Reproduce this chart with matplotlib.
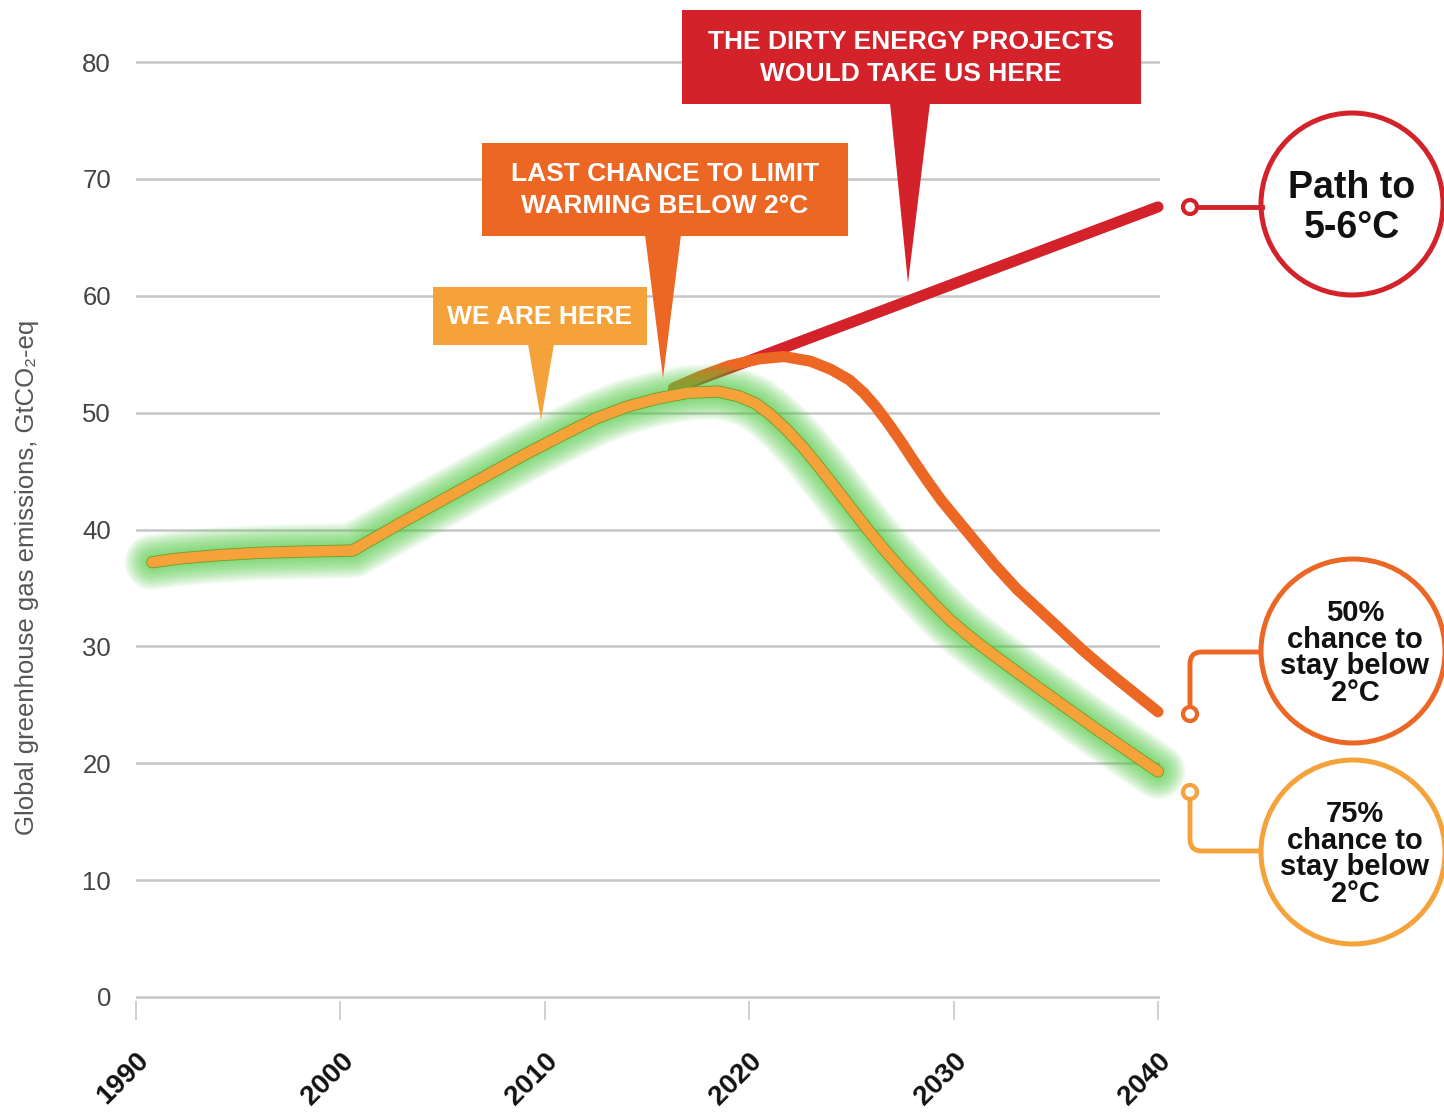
import numpy as np
import matplotlib.pyplot as plt
from matplotlib.patches import Circle, Polygon, Rectangle, PathPatch
from matplotlib.path import Path

# values (GtCO2-eq)
years_75 = [1990.8, 1992, 1994, 1996, 1998, 2000.6, 2003, 2006, 2009, 2011, 2012.5,
            2014, 2015.5, 2017, 2018.5, 2019.5, 2020.3, 2021, 2021.8, 2022.6,
            2023.4, 2024.2, 2025, 2025.8, 2026.6, 2027.4, 2028.2, 2029, 2029.8,
            2030.6, 2031.4, 2032.2, 2033.1, 2034, 2035, 2036, 2037, 2038, 2039, 2040]
emis_75 = [37.2, 37.5, 37.8, 38.0, 38.1, 38.2, 40.6, 43.5, 46.4, 48.2, 49.5,
           50.5, 51.2, 51.7, 51.8, 51.4, 50.8, 49.9, 48.6, 47.1,
           45.4, 43.6, 41.8, 40.0, 38.3, 36.7, 35.2, 33.7, 32.3,
           31.1, 30.0, 28.95, 27.8, 26.65, 25.4, 24.15, 22.9, 21.7, 20.5, 19.3]

years_50 = [2016.3, 2017.6, 2019, 2020.5, 2021.7, 2023, 2024, 2024.9, 2025.6, 2026.2,
            2026.8, 2027.4, 2028, 2028.7, 2029.4, 2030.2, 2031, 2032, 2033.1,
            2033.9, 2034.7, 2035.5, 2036.3, 2037.1, 2038, 2039, 2040]
emis_50 = [52.1, 53.1, 54.0, 54.6, 54.8, 54.4, 53.7, 52.8, 51.7, 50.5,
           49.1, 47.6, 46.0, 44.2, 42.5, 40.8, 39.1, 37.0, 34.9,
           33.6, 32.3, 31.0, 29.7, 28.5, 27.2, 25.8, 24.4]

years_dirty = [2016.3, 2040]
emis_dirty = [52.0, 67.6]

xticks = [1990, 2000, 2010, 2020, 2030, 2040]
yticks = [0, 10, 20, 30, 40, 50, 60, 70, 80]

RED = '#d3222a'
ORANGE = '#ec6624'
YELLOW = '#f5a23a'
GREEN = '#4fcc40'
FONT = ['Liberation Sans', 'DejaVu Sans']

W, H = 1444, 1113
plt.rcParams['font.family'] = FONT
fig = plt.figure(figsize=(W / 100, H / 100), dpi=100)
ax = fig.add_axes([136 / W, (H - 1000.5) / H, 1024 / W, 942 / H])

ax.set_xlim(1990, 2040.1)
ax.set_ylim(-0.3, 80.3)
for s in ax.spines.values():
    s.set_visible(False)
ax.yaxis.grid(True, color='#c6c6c6', lw=1.8)
ax.set_axisbelow(True)

ax.set_yticks(yticks)
ax.set_xticks(xticks)
ax.set_xticklabels([str(x) for x in xticks], rotation=45, ha='right', va='top',
                   rotation_mode='anchor', fontweight='bold')
ax.tick_params(axis='x', length=14, width=1.2, color='#c8c8c8', pad=20,
               labelsize=20, labelcolor='#111111')
ax.tick_params(axis='y', length=0, pad=18, labelsize=18.5, labelcolor='#444444')

line_kw = dict(solid_capstyle='round', solid_joinstyle='round', clip_on=False)

# dirty path and 50% path
ax.plot(years_dirty, emis_dirty, color=RED, lw=8, **line_kw)
ax.plot(years_50, emis_50, color=ORANGE, lw=8, **line_kw)

# 75% path with green glow
for lw in np.linspace(40, 11, 14):
    ax.plot(years_75, emis_75, color=GREEN, lw=lw, alpha=0.07, **line_kw)
ax.plot(years_75, emis_75, color='#6e9e2a', lw=8.8, **line_kw)
ax.plot(years_75, emis_75, color=YELLOW, lw=7.6, **line_kw)

fig.text(27 / W, 1 - 577 / H, 'Global greenhouse gas emissions, GtCO\u2082-eq',
         rotation=90, ha='center', va='center', fontsize=18.5, color='#555555')

# overlay in pixel coordinates for callouts
ov = fig.add_axes([0, 0, 1, 1])
ov.set_xlim(0, W)
ov.set_ylim(H, 0)
ov.axis('off')
ov.patch.set_visible(False)

boxes = [
    ((433, 287, 214, 58), (528, 554, 344, 541, 420), YELLOW, 'WE ARE HERE', (540, 317)),
    ((482, 143, 366, 93), (645, 681, 235, 663, 378), ORANGE,
     'LAST CHANCE TO LIMIT\nWARMING BELOW 2\u00b0C', (665, 190)),
    ((682, 10, 459, 94), (890, 930, 103, 908, 283), RED,
     'THE DIRTY ENERGY PROJECTS\nWOULD TAKE US HERE', (911, 58)),
]
for (bx, by, bw, bh), (x0, x1, yb, tx, ty), c, txt, (cx, cy) in boxes:
    ov.add_patch(Rectangle((bx, by), bw, bh, color=c, lw=0))
    ov.add_patch(Polygon([(x0, yb), (x1, yb), (tx, ty)], closed=True, color=c, lw=0))
    ov.text(cx, cy, txt, color='white', fontsize=19, fontweight='bold', ha='center',
            va='center', linespacing=1.4)


def elbow(y0, y1, color):
    # vertical from small circle, rounded corner, then across to big circle
    r = 12 if y1 < y0 else -12
    verts = [(1190, y0), (1190, y1 + r), (1190, y1), (1190 + 12, y1), (1262, y1)]
    codes = [Path.MOVETO, Path.LINETO, Path.CURVE3, Path.CURVE3, Path.LINETO]
    ov.add_patch(PathPatch(Path(verts, codes), fill=False, ec=color, lw=3.5))


# right-hand circles
ov.plot([1197, 1262], [207, 207], color=RED, lw=3.5)
ov.add_patch(Circle((1190, 207), 7, fc='white', ec=RED, lw=3))
ov.add_patch(Circle((1352, 204), 91, fc='white', ec=RED, lw=3.6))
ov.text(1352, 208, 'Path to\n5-6\u00b0C', ha='center', va='center', fontsize=27,
        fontweight='bold', color='#111111', linespacing=1.15)

elbow(706, 652, ORANGE)
ov.add_patch(Circle((1190, 714), 7, fc='white', ec=ORANGE, lw=3))
ov.add_patch(Circle((1353, 651), 92, fc='white', ec=ORANGE, lw=3.6))
ov.text(1355, 653, '50%\nchance to\nstay below\n2\u00b0C', ha='center', va='center',
        fontsize=21, fontweight='bold', color='#111111', linespacing=0.95)

elbow(800, 851, YELLOW)
ov.add_patch(Circle((1190, 792), 7, fc='white', ec=YELLOW, lw=3))
ov.add_patch(Circle((1353, 852), 92, fc='white', ec=YELLOW, lw=3.6))
ov.text(1355, 854, '75%\nchance to\nstay below\n2\u00b0C', ha='center', va='center',
        fontsize=21, fontweight='bold', color='#111111', linespacing=0.95)

fig.savefig('out.png', dpi=100, facecolor='white')
